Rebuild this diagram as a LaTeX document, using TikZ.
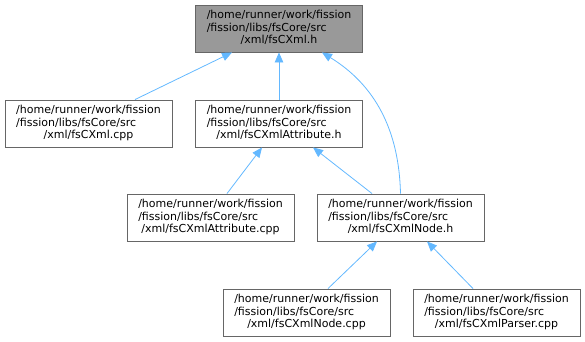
\documentclass[tikz,border=0pt]{standalone}
\usepackage{fontspec}
\setmainfont{DejaVu Sans}
\usetikzlibrary{arrows.meta,calc}
\definecolor{edgeblue}{HTML}{63B8FF}
\definecolor{boxborder}{HTML}{666666}
\definecolor{topfill}{HTML}{999999}
\newcommand{\flabel}[1]{\fontsize{11}{12.5}\selectfont\begin{tabular}{@{}l@{}}/home/runner/work/fission\\/fission/libs/fsCore/src\\\multicolumn{1}{@{}c@{}}{/xml/#1}\end{tabular}}
\begin{document}
\begin{tikzpicture}[x=1pt,y=-1pt,
  filebox/.style={draw=boxborder,fill=white,line width=0.9pt,minimum width=167pt,minimum height=47pt,inner sep=0pt,anchor=center},
  dep/.style={draw=edgeblue,line width=0.8pt,{Triangle[length=10pt,width=8.5pt]}-}]
\useasboundingbox (0,0) rectangle (585,341);
\node[filebox,fill=topfill] (top) at (279,28.5) {\flabel{fsCXml.h}};
\node[filebox] (cpp) at (88.5,123.5) {\flabel{fsCXml.cpp}};
\node[filebox] (attrh) at (279,123.5) {\flabel{fsCXmlAttribute.h}};
\node[filebox] (attrcpp) at (210.5,217.5) {\flabel{fsCXmlAttribute.cpp}};
\node[filebox] (nodeh) at (400.5,217.5) {\flabel{fsCXmlNode.h}};
\node[filebox] (nodecpp) at (306.5,312.5) {\flabel{fsCXmlNode.cpp}};
\node[filebox] (parser) at (496.5,312.5) {\flabel{fsCXmlParser.cpp}};
\draw[dep] ($(top.south)+(-47,0)$) -- ($(cpp.north)+(46.5,0)$);
\draw[dep] (top.south) -- (attrh.north);
\draw[dep] ($(top.south)+(43,0)$) .. controls (375,85) and (399,130) .. (nodeh.north);
\draw[dep] ($(attrh.south)+(-17,0)$) -- ($(attrcpp.north)+(16.5,0)$);
\draw[dep] ($(attrh.south)+(34,0)$) -- ($(nodeh.north)+(-28.5,0)$);
\draw[dep] ($(nodeh.south)+(-23.5,0)$) -- ($(nodecpp.north)+(21.5,0)$);
\draw[dep] ($(nodeh.south)+(26.5,0)$) -- ($(parser.north)+(-23.5,0)$);
\end{tikzpicture}
\end{document}
